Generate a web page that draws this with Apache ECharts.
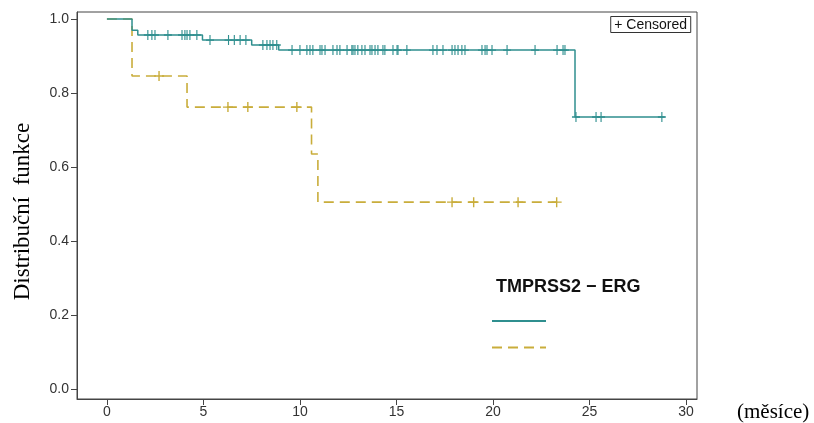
<!DOCTYPE html>
<html>
<head>
<meta charset="utf-8">
<script src="https://cdn.jsdelivr.net/npm/echarts@6/dist/echarts.min.js"></script>
<style>html,body{margin:0;padding:0;background:#fff;}#c{width:814px;height:423px;}</style>
</head>
<body>
<div id="c"></div>
<script>
// ---- data ----
const xTicks = [0, 5, 10, 15, 20, 25, 30];
const yTicks = [0, 0.2, 0.4, 0.6, 0.8, 1.0];

// group 1 (teal, solid)
const tealEventTimes = [0, 1.3, 1.6, 4.95, 7.5, 8.9, 24.25];
const tealSurvival   = [1.0, 0.970, 0.957, 0.943, 0.930, 0.916, 0.735];
const tealLastTime   = 28.9;
const tealCensored = [2.12, 2.33, 2.49, 3.16, 3.89, 4.04, 4.15, 4.3, 4.66,
  5.34, 6.3, 6.6, 6.9, 7.2,
  8.08, 8.29, 8.45, 8.6, 8.8,
  9.59, 10.0, 10.36, 10.52, 10.67, 11.04, 11.14, 11.3, 11.71, 11.92, 12.07, 12.44,
  12.69, 12.75, 12.85, 13.0, 13.21, 13.37, 13.63, 13.73, 13.89, 14.04, 14.3, 14.4,
  14.82, 15.03, 15.08, 15.54, 16.89, 17.1, 17.41, 17.88, 18.03, 18.19, 18.39, 18.55,
  19.43, 19.59, 19.69, 19.95, 20.73, 22.18, 23.32, 23.63, 23.73,
  24.3, 25.34, 25.6, 28.75];

// group 2 (gold, dashed)
const goldEventTimes = [0, 1.3, 4.15, 10.6, 10.93];
const goldSurvival   = [1.0, 0.846, 0.762, 0.635, 0.505];
const goldLastTime   = 23.3;
const goldCensored   = [2.7, 6.27, 7.3, 9.84, 17.88, 19.0, 21.3, 23.3];

const legendTitle = 'TMPRSS2 \u2212 ERG';
const seriesNames = ['TMPRSS2-ERG negativní', 'TMPRSS2-ERG pozitivní'];
const yName = 'Distribuční  funkce';
const xName = '(měsíce)';
const censorLabel = '+ Censored';

// ---- helpers ----
function curve(times, surv, last) {
  const d = times.map((t, i) => [t, surv[i]]);
  d.push([last, surv[surv.length - 1]]);
  return d;
}
function survAt(times, surv, t) {
  let s = surv[0];
  for (let i = 0; i < times.length; i++) if (times[i] <= t) s = surv[i];
  return s;
}
const plusPath = 'path://M-0.14,-1H0.14V-0.14H1V0.14H0.14V1H-0.14V0.14H-1V-0.14H-0.14Z';

const TEAL = '#2f8f8f';
const GOLD = '#c9ad3b';

const chart = echarts.init(document.getElementById('c'));
chart.setOption({
  animation: false,
  backgroundColor: '#fff',
  grid: { left: 77, right: 117, top: 12, bottom: 24, show: true, borderColor: '#444', borderWidth: 1, outerBoundsMode: 'none', containLabel: false },
  title: [
    { text: censorLabel, right: 123, top: 16, padding: [2, 4, 1, 4], borderColor: '#333', borderWidth: 1,
      textStyle: { fontFamily: 'Liberation Sans, Arial, sans-serif', fontSize: 14, fontWeight: 'normal', color: '#111' } },
    { text: legendTitle, left: 496, top: 278, padding: 0,
      textStyle: { fontFamily: 'Liberation Sans, Arial, sans-serif', fontSize: 18, fontWeight: 'bold', color: '#111' } }
  ],
  legend: {
    data: seriesNames, orient: 'vertical', left: 491, top: 314,
    itemWidth: 54, itemHeight: 14, itemGap: 14, padding: 0,
    itemStyle: { opacity: 0 },
    formatter: function () { return ''; }
  },
  xAxis: {
    type: 'value', min: -1.55, max: 30.57,
    name: '\n' + xName, nameLocation: 'end', nameGap: 40,
    nameTextStyle: { fontFamily: 'Liberation Serif, Times New Roman, serif', fontSize: 21, lineHeight: 26, color: '#000', align: 'left' },
    splitLine: { show: false },
    axisLine: { show: true, onZero: false, lineStyle: { color: '#444' } },
    axisTick: { show: true, length: 6, customValues: xTicks, lineStyle: { color: '#444' } },
    axisLabel: { customValues: xTicks, margin: 6, fontFamily: 'Liberation Sans, Arial, sans-serif', fontSize: 14, color: '#333' }
  },
  yAxis: {
    type: 'value', min: -0.027, max: 1.019,
    name: yName, nameLocation: 'middle', nameGap: 43,
    nameTextStyle: { fontFamily: 'Liberation Serif, Times New Roman, serif', fontSize: 23, color: '#000', padding: [0, 12, 0, 0] },
    splitLine: { show: false },
    axisLine: { show: true, onZero: false, lineStyle: { color: '#444' } },
    axisTick: { show: true, length: 6, customValues: yTicks, lineStyle: { color: '#444' } },
    axisLabel: { customValues: yTicks, margin: 8, fontFamily: 'Liberation Sans, Arial, sans-serif', fontSize: 14, color: '#333',
      formatter: function (v) { return v.toFixed(1); } }
  },
  series: [
    { name: seriesNames[0], type: 'line', step: 'end', symbol: 'none', z: 3,
      data: curve(tealEventTimes, tealSurvival, tealLastTime),
      lineStyle: { color: TEAL, width: 1.5 }, itemStyle: { color: TEAL } },
    { name: seriesNames[1], type: 'line', step: 'end', symbol: 'none', z: 2,
      data: curve(goldEventTimes, goldSurvival, goldLastTime),
      lineStyle: { color: GOLD, width: 1.6, type: [10, 6] }, itemStyle: { color: GOLD } },
    { name: 'teal censored', type: 'scatter', symbol: plusPath, symbolSize: [8, 10], z: 4,
      data: tealCensored.map(t => [t, survAt(tealEventTimes, tealSurvival, t)]),
      itemStyle: { color: TEAL, opacity: 1 } },
    { name: 'gold censored', type: 'scatter', symbol: plusPath, symbolSize: [10, 10], z: 4,
      data: goldCensored.map(t => [t, survAt(goldEventTimes, goldSurvival, t)]),
      itemStyle: { color: GOLD, opacity: 1 } }
  ]
});
</script>
</body>
</html>
